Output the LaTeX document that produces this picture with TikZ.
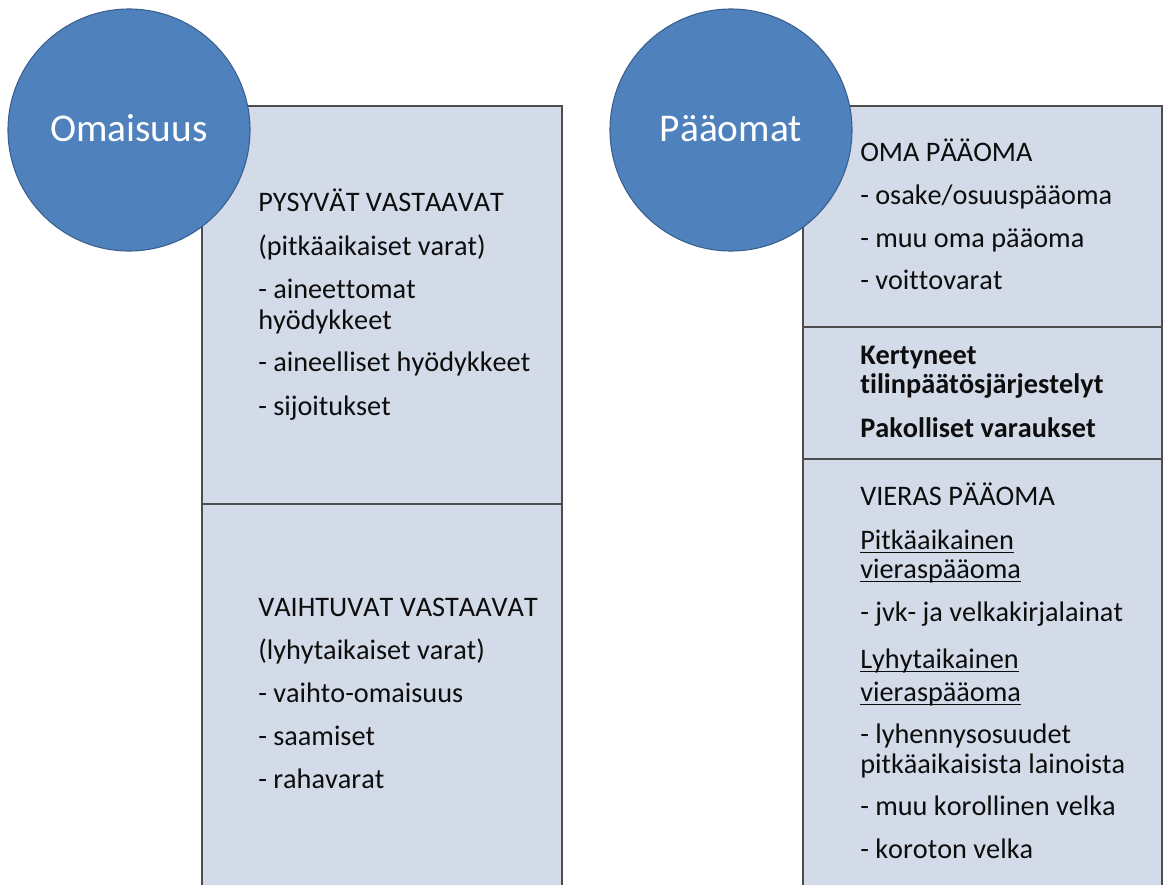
\documentclass[tikz,border=0pt]{standalone}
\usepackage{fontspec}
\setmainfont[Kerning=Off,Ligatures=NoCommon]{Carlito}
\definecolor{circfill}{HTML}{4F81BD}
\definecolor{circline}{HTML}{3A5F8E}
\definecolor{panel}{HTML}{D3DAE8}
\definecolor{rulegray}{HTML}{4D4D4D}
\definecolor{ink}{HTML}{0D0D0D}
\begin{document}
\begin{tikzpicture}[x=0.75pt,y=-0.75pt,
  panelbox/.style={fill=panel,draw=rulegray,line width=1.2pt},
  divider/.style={draw=rulegray,line width=1.2pt},
  bubble/.style={circle,fill=circfill,draw=circline,line width=0.8pt,
    minimum size=181.5pt,inner sep=0pt},
  bubbletext/.style={anchor=base,inner sep=0pt,text=white,
    font=\fontsize{29.5}{34}\selectfont},
  item/.style={anchor=base west,inner sep=0pt,text=ink,
    font=\fontsize{21.2}{25}\selectfont},
  bolditem/.style={item,font=\fontsize{21.2}{25}\selectfont\bfseries},
  uline/.style={draw=ink,line width=0.9pt}
  ]
\useasboundingbox (0,0) rectangle (1165,885);
\clip (0,0) rectangle (1165,885);
\fill[white] (0,0) rectangle (1165,885);

% asset column
\draw[panelbox] (202,106) rectangle (562,900);
\draw[divider] (202,504) -- (562,504);

% equity and liabilities column
\draw[panelbox] (803,106) rectangle (1162,900);
\draw[divider] (803,327) -- (1162,327);
\draw[divider] (803,459) -- (1162,459);

% headline circles
\node[bubble] (omaisuus) at (129,130) {};
\node[bubbletext] (omaisuusT) at (129,141) {Omaisuus};
\node[bubble] (paaomat) at (731,130) {};
\node[bubbletext] (paaomatT) at (731,141) {Pääomat};

% fixed assets
\node[item] (l1) at (258,211) {PYSYVÄT VASTAAVAT};
\node[item] (l2) at (258,255) {(pitkäaikaiset varat)};
\node[item] (l3) at (258,298) {- aineettomat};
\node[item] (l4) at (258,329) {hyödykkeet};
\node[item] (l5) at (258,371) {- aineelliset hyödykkeet};
\node[item] (l6) at (258,415) {- sijoitukset};

% current assets
\node[item] (m1) at (258,616) {VAIHTUVAT VASTAAVAT};
\node[item] (m2) at (258,659) {(lyhytaikaiset varat)};
\node[item] (m3) at (258,702) {- vaihto-omaisuus};
\node[item] (m4) at (258,745) {- saamiset};
\node[item] (m5) at (258,788) {- rahavarat};

% equity
\node[item] (r1) at (860,161) {OMA PÄÄOMA};
\node[item] (r2) at (860,204) {- osake/osuuspääoma};
\node[item] (r3) at (860,247) {- muu oma pääoma};
\node[item] (r4) at (860,289) {- voittovarat};

% appropriations and provisions
\node[bolditem] (s1) at (860,364) {Kertyneet};
\node[bolditem] (s2) at (860,393) {tilinpäätösjärjestelyt};
\node[bolditem] (s3) at (860,437) {Pakolliset varaukset};

% liabilities
\node[item] (t1) at (860,505) {VIERAS PÄÄOMA};
\node[item] (t2) at (860,549) {Pitkäaikainen};
\node[item] (t3) at (860,578) {vieraspääoma};
\node[item] (t4) at (860,621) {- jvk- ja velkakirjalainat};
\node[item] (t5) at (860,668) {Lyhytaikainen};
\node[item] (t6) at (860,701) {vieraspääoma};
\node[item] (t7) at (860,743) {- lyhennysosuudet};
\node[item] (t8) at (860,773) {pitkäaikaisista lainoista};
\node[item] (t9) at (860,815) {- muu korollinen velka};
\node[item] (t10) at (860,858) {- koroton velka};

% underlined subheadings
\foreach \n in {t2,t3,t5,t6}
  \draw[uline] ([yshift=-2.4pt]\n.base west) -- ([yshift=-2.4pt]\n.base east);
\end{tikzpicture}
\end{document}
